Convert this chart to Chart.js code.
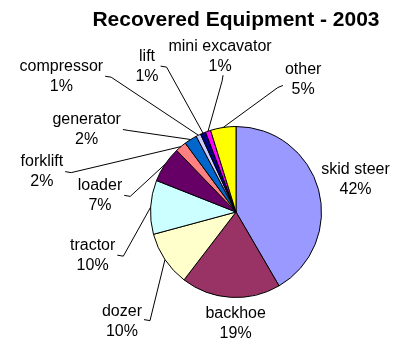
<!DOCTYPE html>
<html><head><meta charset="utf-8">
<script src="https://cdn.jsdelivr.net/npm/chart.js@4/dist/chart.umd.min.js"></script>
<style>html,body{margin:0;padding:0;background:#fff;overflow:hidden}</style>
</head><body>
<canvas id="c" width="399" height="341"></canvas>
<script>
const categories = ['skid steer','backhoe','dozer','tractor','loader','forklift','generator','compressor','lift','mini excavator','other'];
const values = [41.6, 18.8, 10.4, 10.2, 6.8, 2.1, 2.4, 0.9, 1.0, 1.0, 4.8];
const colors = ['#9999FF','#993366','#FFFFCC','#CCFFFF','#660066','#FF8080','#0066CC','#CCCCFF','#000080','#FF00FF','#FFFF00'];
const titleText = 'Recovered Equipment - 2003';

// label placement relative to the slice's outer mid-point (layout only)
const labelLayout = [
  {dx: 37, dy: -10, leader: null},
  {dx: 5, dy: 26, leader: null},
  {dx: -43, dy: 62, leader: 'right', ay: -2},
  {dx: -58, dy: 48, leader: 'right', ay: 0},
  {dx: -65, dy: 31, leader: 'right', ay: 0},
  {dx: -139, dy: 25, leader: 'right', ay: 0},
  {dx: -104, dy: -10, leader: 'right', ay: 0},
  {dx: -137, dy: -59, leader: 'right', ay: 0},
  {dx: -56, dy: -67, leader: 'right', ay: 0},
  {dx: 12, dy: -75, leader: 'bottom', ax: 3},
  {dx: 80, dy: -48, leader: 'left', ay: 6}
];

const FONT = '"Liberation Sans", Arial, sans-serif';

const pieLabels = {
  id: 'pieLabels',
  afterDatasetsDraw(chart) {
    const ctx = chart.ctx;
    const meta = chart.getDatasetMeta(0);
    const data = chart.data.datasets[0].data;
    const total = data.reduce((a, b) => a + b, 0);
    ctx.save();
    ctx.fillStyle = '#000';
    ctx.strokeStyle = '#000';
    ctx.lineWidth = 1;
    ctx.textAlign = 'center';
    ctx.textBaseline = 'middle';
    // title, centred over the pie
    const first = meta.data[0].getProps(['x', 'y', 'outerRadius'], true);
    ctx.font = 'bold 21px ' + FONT;
    ctx.fillText(titleText, first.x, 20);
    ctx.font = '16px ' + FONT;
    meta.data.forEach((arc, i) => {
      const p = arc.getProps(['x', 'y', 'startAngle', 'endAngle', 'outerRadius'], true);
      const mid = (p.startAngle + p.endAngle) / 2;
      const ex = p.x + Math.cos(mid) * p.outerRadius;
      const ey = p.y + Math.sin(mid) * p.outerRadius;
      const L = labelLayout[i];
      const cx = ex + L.dx, cy = ey + L.dy;
      const name = chart.data.labels[i];
      const pct = Math.round(data[i] / total * 100) + '%';
      ctx.fillText(name, cx, cy - 10);
      ctx.fillText(pct, cx, cy + 10);
      if (L.leader) {
        const w = Math.max(ctx.measureText(name).width, ctx.measureText(pct).width);
        let ax, ay, tx, ty;
        if (L.leader === 'right') {
          ax = cx + w / 2 + 2; ay = cy + (L.ay || 0); tx = ax + 6; ty = ay + 1;
        } else if (L.leader === 'left') {
          ax = cx - w / 2 - 2; ay = cy + (L.ay || 0); tx = ax - 5; ty = ay + 2;
        } else {
          ax = cx + (L.ax || 0); ay = cy + 19; tx = ax - 1; ty = ay + 6;
        }
        ctx.beginPath();
        ctx.moveTo(ex, ey);
        ctx.lineTo(tx, ty);
        ctx.lineTo(ax, ay);
        ctx.stroke();
      }
    });
    ctx.restore();
  }
};

new Chart(document.getElementById('c'), {
  type: 'pie',
  data: {
    labels: categories,
    datasets: [{
      data: values,
      backgroundColor: colors,
      borderColor: '#000',
      borderWidth: 1
    }]
  },
  options: {
    responsive: false,
    animation: false,
    layout: { padding: { left: 150, right: 77, top: 126, bottom: 43 } },
    plugins: {
      legend: { display: false },
      tooltip: { enabled: false },
      title: { display: false }
    }
  },
  plugins: [pieLabels]
});
</script>
</body></html>
